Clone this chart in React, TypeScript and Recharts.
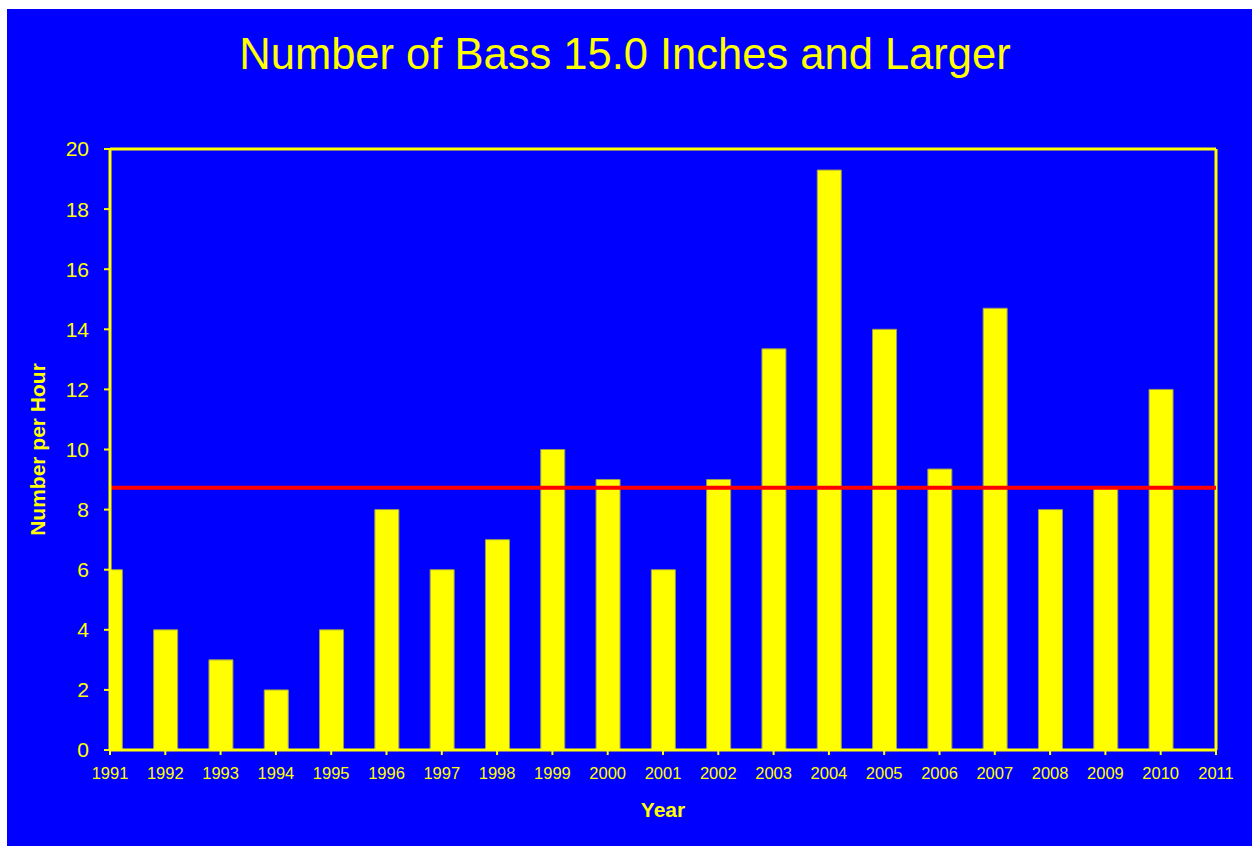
import React from 'react';
import { BarChart, Bar, XAxis, YAxis, ReferenceLine } from 'recharts';

const years = [1991, 1992, 1993, 1994, 1995, 1996, 1997, 1998, 1999, 2000, 2001, 2002, 2003, 2004, 2005, 2006, 2007, 2008, 2009, 2010];
const bassPerHour = [6, 4, 3, 2, 4, 8, 6, 7, 10, 9, 6, 9, 13.35, 19.3, 14, 9.35, 14.7, 8, 8.7, 12];
const xTicks = [1991, 1992, 1993, 1994, 1995, 1996, 1997, 1998, 1999, 2000, 2001, 2002, 2003, 2004, 2005, 2006, 2007, 2008, 2009, 2010, 2011];
const yTicks = [0, 2, 4, 6, 8, 10, 12, 14, 16, 18, 20];
const averageValue = 8.73;

const data = years.map((y, i) => ({ year: y, value: bassPerHour[i] }));

const YELLOW = '#FFFF00';
const BLUE = '#0000FF';
const FONT = '"Liberation Sans", Arial, Helvetica, sans-serif';

export default function App() {
  const W = 1245;
  const H = 837;
  return (
    <div style={{ position: 'absolute', left: 7, top: 9, width: W, height: H, background: BLUE, fontFamily: FONT }}>
      <BarChart
        width={W}
        height={H}
        data={data}
        margin={{ top: 140, right: 36, left: 43, bottom: 56 }}
        barSize={24}
      >
        <XAxis
          dataKey="year"
          type="number"
          domain={[1991, 2011]}
          ticks={xTicks}
          allowDataOverflow
          interval={0}
          height={40}
          stroke={YELLOW}
          axisLine={{ stroke: YELLOW, strokeWidth: 3 }}
          tickLine={{ stroke: YELLOW, strokeWidth: 2 }}
          tickSize={5}
          tickMargin={12}
          tick={{ fill: YELLOW, fontSize: 16.5, fontFamily: FONT }}
        />
        <YAxis
          type="number"
          domain={[0, 20]}
          ticks={yTicks}
          interval={0}
          width={60}
          stroke={YELLOW}
          axisLine={{ stroke: YELLOW, strokeWidth: 3 }}
          tickLine={{ stroke: YELLOW, strokeWidth: 2 }}
          tickSize={6}
          tickMargin={15}
          tick={{ fill: YELLOW, fontSize: 21, fontFamily: FONT }}
        />
        <ReferenceLine y={20} stroke={YELLOW} strokeWidth={3} />
        <ReferenceLine x={2011} stroke={YELLOW} strokeWidth={3} />
        <Bar dataKey="value" fill={YELLOW} stroke="#9a9a55" strokeWidth={1} isAnimationActive={false} />
        <ReferenceLine y={averageValue} stroke="#FF0000" strokeWidth={4} />
      </BarChart>
      <svg width={W} height={H} style={{ position: 'absolute', left: 0, top: 0, pointerEvents: 'none' }}>
        <text x={618} y={60} textAnchor="middle" fill={YELLOW} fontSize={43.5} fontFamily={FONT}>
          Number of Bass 15.0 Inches and Larger
        </text>
        <text x={656} y={808} textAnchor="middle" fill={YELLOW} fontSize={21} fontWeight="bold" fontFamily={FONT}>
          Year
        </text>
        <text
          x={0}
          y={0}
          transform="translate(38,440.5) rotate(-90)"
          textAnchor="middle"
          fill={YELLOW}
          fontSize={21}
          fontWeight="bold"
          fontFamily={FONT}
        >
          Number per Hour
        </text>
      </svg>
    </div>
  );
}
